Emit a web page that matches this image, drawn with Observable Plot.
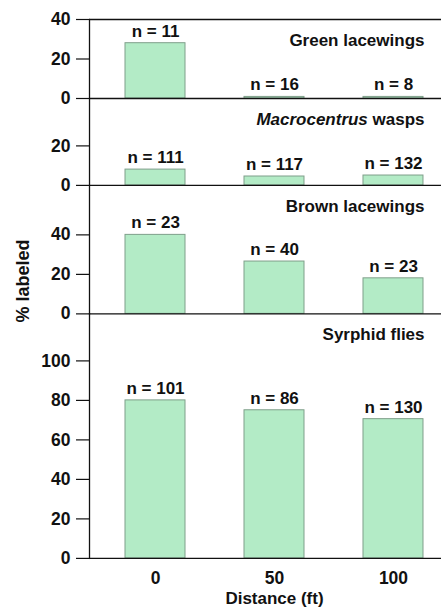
<!DOCTYPE html>
<html><head><meta charset="utf-8">
<script src="https://cdn.jsdelivr.net/npm/d3@7"></script>
<script src="https://cdn.jsdelivr.net/npm/@observablehq/plot@0.6"></script>
<style>
body{margin:0;background:#fff;font-family:"Liberation Sans",Arial,sans-serif;}
#chart{position:relative;width:441px;height:611px;}
#chart svg{display:block;overflow:visible;}
#ylab{position:absolute;left:23px;top:281px;transform:translate(-50%,-50%) rotate(-90deg);font-weight:bold;font-size:18px;white-space:nowrap;color:#111;}
</style></head><body><div id="chart"><div id="ylab">% labeled</div></div>
<script>
const distances = ["0", "50", "100"];
const panelNames = ["Green lacewings", "Macrocentrus wasps", "Brown lacewings", "Syrphid flies"];
const greenValues = [28, 0.8, 0.8];
const greenN = [11, 16, 8];
const waspValues = [8, 4.5, 5];
const waspN = [111, 117, 132];
const brownValues = [40, 26.5, 18];
const brownN = [23, 40, 23];
const syrphidValues = [80, 75, 70.5];
const syrphidN = [101, 86, 130];
const yMaxes = [40, 44, 65, 124];
const yTicks = [[0, 20, 40], [0, 20], [0, 20, 40], [0, 20, 40, 60, 80, 100]];
const xLabel = "Distance (ft)";

const series = [[greenValues, greenN], [waspValues, waspN], [brownValues, brownN], [syrphidValues, syrphidN]];
const k = 1.975;
const chart = document.getElementById("chart");
const font = "'Liberation Sans', Arial, sans-serif";

series.forEach(([values, ns], i) => {
  const data = distances.map((d, j) => ({distance: d, value: values[j], n: ns[j]}));
  const top = i === 0 ? 19 : 0;
  const bottom = i === 3 ? 53 : 0;
  const yMax = yMaxes[i];
  const marks = [
    Plot.barY(data, {x: "distance", y: "value", fill: "#b3ebc6", stroke: "#7f9f8a", strokeWidth: 1}),
    Plot.ruleY([0], {stroke: "#111", strokeWidth: 1.3}),
    Plot.frame({anchor: "left", stroke: "#111", strokeWidth: 1.3}),
    Plot.axisY({ticks: yTicks[i], tickSize: 13, tickPadding: 6, fontSize: 17.5, label: null, strokeWidth: 1.2}),
    Plot.text(data, {x: "distance", y: "value", text: d => `n = ${d.n}`, dy: -12, fontSize: 17, fontWeight: "bold", lineAnchor: "middle"}),
    Plot.text([panelNames[i]], {frameAnchor: "top-right", dx: -17, dy: 21, lineAnchor: "middle", textAnchor: "end", fontSize: 17, fontWeight: "bold"})
  ];
  if (i === 0) marks.push(Plot.ruleY([40], {stroke: "#111", strokeWidth: 1.3}));
  if (i === 3) {
    marks.push(Plot.axisX({tickSize: 0, tickPadding: 13, fontSize: 17.5, label: null}));
    marks.push(Plot.text([xLabel], {x: () => "50", frameAnchor: "bottom", dy: 40, lineAnchor: "middle", fontSize: 17, fontWeight: "bold"}));
  }
  const svg = Plot.plot({
    width: 441,
    height: yMax * k + top + bottom,
    marginLeft: 89, marginRight: 0, marginTop: top, marginBottom: bottom,
    style: {background: "transparent", overflow: "visible", fontFamily: font, fontWeight: "bold", fontSize: "17px", color: "#111"},
    x: {domain: distances, range: [89, 459], paddingInner: 0.5, paddingOuter: 0.3, axis: null},
    y: {domain: [0, yMax], axis: null},
    marks
  });
  d3.select(svg).selectAll("text").filter(function() { return this.textContent === "Macrocentrus wasps"; })
    .html('<tspan font-style="italic">Macrocentrus</tspan> wasps');
  chart.appendChild(svg);
});
</script></body></html>
